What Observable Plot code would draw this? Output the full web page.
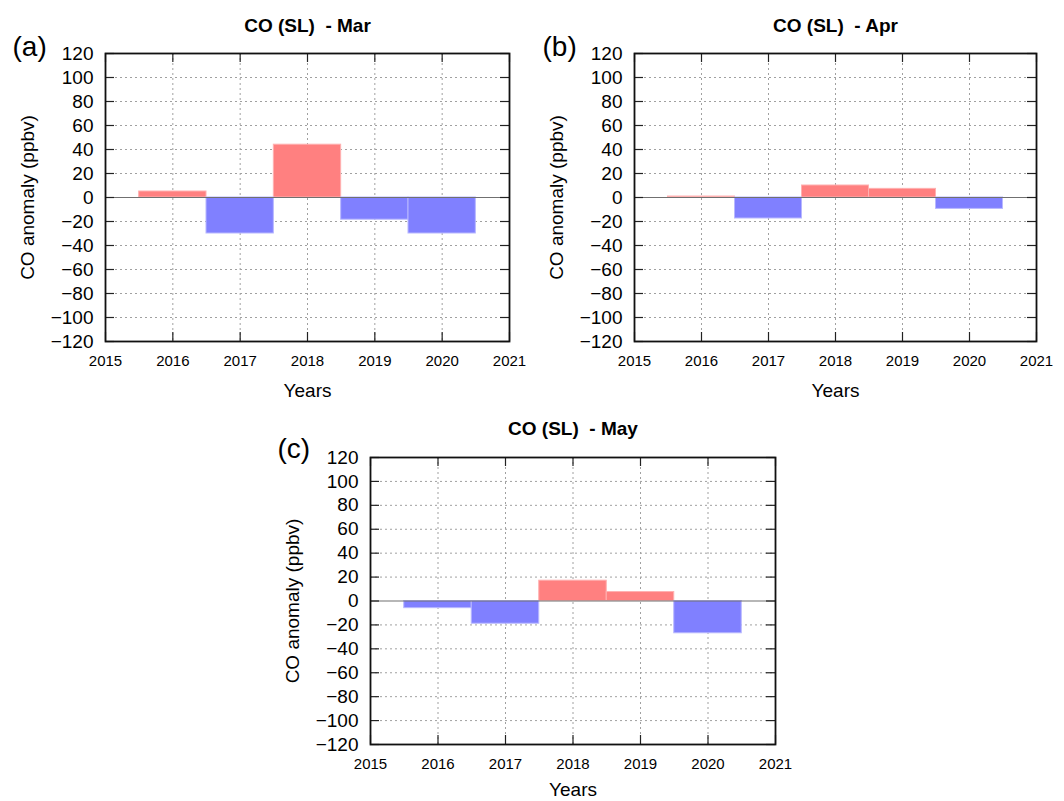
<!DOCTYPE html>
<html>
<head>
<meta charset="utf-8">
<script src="https://cdn.jsdelivr.net/npm/d3@7"></script>
<script src="https://cdn.jsdelivr.net/npm/@observablehq/plot@0.6"></script>
<style>
  html, body { margin: 0; padding: 0; background: white; }
  #wrap { position: relative; width: 1064px; height: 801px; overflow: hidden; background: white; }
  .panel { position: absolute; }
</style>
</head>
<body>
<div id="wrap">
  <div class="panel" id="pa" style="left:0px; top:0px;"></div>
  <div class="panel" id="pb" style="left:530px; top:0px;"></div>
  <div class="panel" id="pc" style="left:270px; top:405px;"></div>
</div>
<script>
// ---- data ----
const years = [2016, 2017, 2018, 2019, 2020];
const marValues = [5, -30, 44, -18.5, -30];
const aprValues = [0.8, -17.5, 10, 7.2, -9.5];
const mayValues = [-6, -19, 17, 7.5, -27];
const xTicks = [2015, 2016, 2017, 2018, 2019, 2020, 2021];
const yTicks = [-120, -100, -80, -60, -40, -20, 0, 20, 40, 60, 80, 100, 120];
const xGrid = [2016, 2017, 2018, 2019, 2020];
const yGrid = [-100, -80, -60, -40, -20, 20, 40, 60, 80, 100];
const titles = ["CO (SL)  - Mar", "CO (SL)  - Apr", "CO (SL)  - May"];
const letters = ["(a)", "(b)", "(c)"];
const yLabel = "CO anomaly (ppbv)";
const xLabel = "Years";

const FONT = "'Liberation Sans', Arial, Helvetica, sans-serif";
const RED = "#ff8080";
const BLUE = "#8080ff";
const TICK = "#222";

function panel({values, title, letter, width, height, mL, mR, mT, mB, letterDx, letterDy, titleDy, xLabelDy}) {
  const data = years.map((year, i) => ({year, value: values[i]}));
  const pw = width - mL - mR, ph = height - mT - mB;
  const tl = 9;
  return Plot.plot({
    width, height,
    marginLeft: mL, marginRight: mR, marginTop: mT, marginBottom: mB,
    style: {fontFamily: FONT, background: "white", overflow: "visible", color: "black"},
    x: {domain: [2015, 2021]},
    y: {domain: [-120, 120]},
    marks: [
      Plot.ruleX(xGrid, {x: d => d, stroke: "#a0a0a0", strokeWidth: 1, strokeDasharray: "2,3"}),
      Plot.ruleY(yGrid, {y: d => d, stroke: "#a0a0a0", strokeWidth: 1, strokeDasharray: "2,3"}),
      Plot.rect(data, {filter: d => d.value >= 0, x1: d => d.year - 0.5, x2: d => d.year + 0.5, y1: 0, y2: "value", fill: RED, stroke: "#ffb0b0", strokeWidth: 1}),
      Plot.rect(data, {filter: d => d.value < 0, x1: d => d.year - 0.5, x2: d => d.year + 0.5, y1: 0, y2: "value", fill: BLUE, stroke: "#b8b8ff", strokeWidth: 1}),
      Plot.ruleY([0], {stroke: "#707070", strokeWidth: 1.2}),
      Plot.tickY(yTicks, {y: d => d, insetRight: pw - tl, stroke: TICK, strokeWidth: 1.2}),
      Plot.tickY(yTicks, {y: d => d, insetLeft: pw - tl, stroke: TICK, strokeWidth: 1.2}),
      Plot.tickX(xTicks, {x: d => d, insetTop: ph - tl, stroke: TICK, strokeWidth: 1.2}),
      Plot.tickX(xTicks, {x: d => d, insetBottom: ph - tl, stroke: TICK, strokeWidth: 1.2}),
      Plot.frame({stroke: "#111", strokeWidth: 1.8}),
      Plot.axisY(yTicks, {tickSize: 0, tickPadding: 12, fontSize: 19, label: null, fill: "black"}),
      Plot.axisX(xTicks, {tickSize: 0, tickPadding: 14, fontSize: 15, label: null, fill: "black", tickFormat: d => String(d)}),
      Plot.text([title], {frameAnchor: "top", dy: titleDy, lineAnchor: "bottom", fontWeight: "bold", fontSize: 19, fill: "black"}),
      Plot.text([letter], {frameAnchor: "top-left", dx: letterDx, dy: letterDy, textAnchor: "start", lineAnchor: "bottom", fontSize: 28, fill: "black"}),
      Plot.text([yLabel], {frameAnchor: "left", dx: -78, rotate: -90, textAnchor: "middle", lineAnchor: "middle", fontSize: 19, fill: "black"}),
      Plot.text([xLabel], {frameAnchor: "bottom", dy: xLabelDy, lineAnchor: "bottom", fontSize: 19, fill: "black"})
    ]
  });
}

document.getElementById("pa").appendChild(panel({
  values: marValues, title: titles[0], letter: letters[0],
  width: 530, height: 400, mL: 105, mR: 21, mT: 53, mB: 59,
  letterDx: -93, letterDy: 2, titleDy: -22, xLabelDy: 55
}));
document.getElementById("pb").appendChild(panel({
  values: aprValues, title: titles[1], letter: letters[1],
  width: 534, height: 400, mL: 104, mR: 28, mT: 53, mB: 59,
  letterDx: -92, letterDy: 2, titleDy: -22, xLabelDy: 55
}));
document.getElementById("pc").appendChild(panel({
  values: mayValues, title: titles[2], letter: letters[2],
  width: 530, height: 396, mL: 100, mR: 25, mT: 52, mB: 57,
  letterDx: -93, letterDy: 0, titleDy: -23, xLabelDy: 51
}));
</script>
</body>
</html>
